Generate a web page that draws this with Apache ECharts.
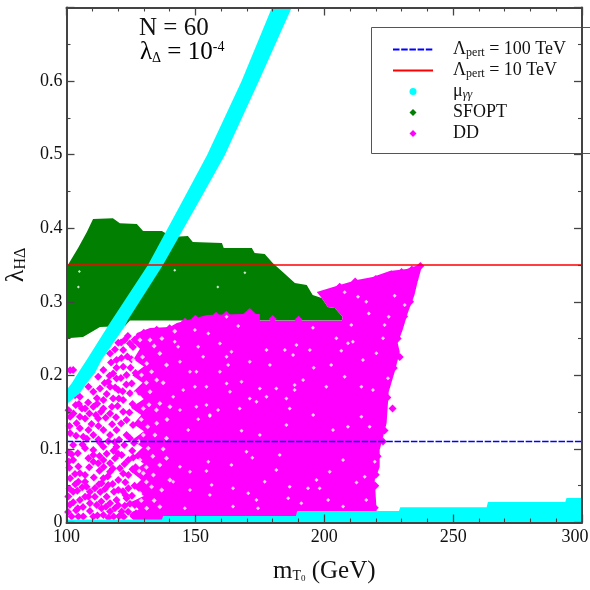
<!DOCTYPE html>
<html><head><meta charset="utf-8">
<style>html,body{margin:0;padding:0;background:#fff}#c{width:590px;height:590px}</style>
<script src="https://cdn.jsdelivr.net/npm/echarts@6/dist/echarts.min.js"></script>
</head><body><div id="c"></div>
<script>
const lineXs = [100, 300];
const pert100 = [0.11, 0.11];
const pert10 = [0.35, 0.35];
const cyanBand = [[100,.18],[102.1,.1895],[104.5,.2031],[107.8,.2208],[116.1,.267],[117.6,.2751],[131.6,.3499],[145.2,.4382],[154.5,.4993],[167.9,.5999],[179.7,.7],[187.4,.7],[174.6,.5999],[161.4,.4993],[151.7,.4382],[137.4,.3499],[123.8,.2751],[122.7,.267],[113.6,.2208],[111,.2031],[107.9,.1895],[105.2,.1759],[100.6,.1623],[100,.162]];
const cyanFloor = [[100,0],[100,.004],[137,.004],[137.5,.0088],[189,.0088],[189.5,.0156],[229,.0156],[229.5,.0206],[263,.0206],[263.5,.0279],[293.5,.0279],[294,.0333],[300,.0333],[300,0]];
const sfoptRegion = [[100,.248],[100,.3471],[104.5,.373],[107.9,.3947],[110.3,.4124],[118,.4137],[120.7,.4069],[127.3,.4056],[129.7,.3961],[137,.3961],[140.9,.3879],[147.1,.3893],[149,.3811],[160.3,.3798],[161,.373],[171.9,.373],[173,.3662],[176.9,.3648],[180,.3526],[183.9,.3404],[188.6,.3254],[193.2,.3227],[195.5,.3091],[199,.305],[201.4,.2928],[204.1,.2914],[207.2,.2792],[206.8,.2745],[124.6,.2745],[122.7,.267],[113,.2656],[106.4,.252],[101.4,.2507],[100,.248]];
const sfoptGaps = [[104.6,.32],[142,.343],[169.2,.3395],[158.7,.32],[105,.341]];
const ddRegion = [[127,0],[124.5,.008],[128,.018],[125,.028],[130,.036],[126,.048],[129,.058],[125.5,.068],[130,.08],[126,.09],[129.5,.102],[125.5,.112],[130,.124],[126,.134],[129,.146],[125,.156],[130,.168],[126,.178],[129.5,.19],[125.5,.2],[130,.212],[126,.222],[128.5,.236],[125.5,.246],[127.3,.2575],[132.4,.2643],[140.1,.2656],[142.8,.2711],[154.5,.2819],[168.5,.2833],[171.1,.2914],[173.5,.2833],[175,.2833],[175,.2742],[206.8,.2742],[207.2,.2792],[204.1,.2914],[201.4,.2928],[199,.305],[197.1,.3132],[206,.3227],[212.6,.3295],[218.8,.3336],[225.4,.3417],[232,.3444],[237.8,.3512],[237.8,.3471],[236.2,.3268],[235,.3091],[232.4,.2846],[230.4,.2615],[228.5,.2439],[229.3,.2317],[227.3,.2045],[225,.1773],[224.2,.1352],[221.5,.0985],[221.5,.0754],[219.6,.0577],[220.3,.017],[220.3,0]];
const ddPoints = [
[102,.0926],[102.6,.085],[101.1,.0745],[104.6,.076],[105.2,.0668],[107.2,.0646],[101.4,.06],[104.6,.0555],[102.6,.0419],[107.2,.0555],[107.8,.0487],[109.1,.0419],[110.4,.0827],[112.3,.0804],[108.5,.0872],[110.4,.0917],[114.3,.085],[116.9,.0804],[110.4,.0985],[107.2,.1008],[114.3,.06],[113.6,.0532],[111,.0465],[111,.0351],[109.1,.0261],[105.2,.0306],[102.6,.0274],[107.2,.0351],[111.7,.0238],[113.6,.0193],[109.1,.0157],[104.6,.008],[102,.008],[106.5,.008],[110.4,.008],[114.3,.0102],[116.9,.0261],[116.9,.0148],[118.8,.0193],
[102.6,.2072],[101.4,.207],[105.2,.1709],[103.3,.173],[101.4,.1438],[105.2,.1438],[107.2,.1415],[110.4,.1573],[114.3,.1664],[110.4,.1777],[116.2,.1913],[118.1,.2026],[114.3,.2072],[112.3,.1981],[108.5,.1845],[113,.182],[120.1,.2443],[116.9,.2298],[119.4,.2208],[122,.2343],[124.6,.2434],[122,.2117],[123.3,.2004],[119.4,.1958],[116.9,.1845],[120.1,.18],[118.1,.1687],[122,.1664],[125.3,.1891],[114.3,.1551],[116.9,.1483],[112.3,.1415],[122,.1505],[123.3,.1392],[107.2,.1551],
[105.2,.128],[108.5,.1257],[110.4,.1189],[114.3,.1257],[116.9,.1189],[119.4,.1257],[123.3,.1189],[101.4,.1212],[106.5,.1166],[102.6,.1053],[114.3,.1031],[119.4,.1031],[121.4,.0917],[118.8,.0872],[124,.085],[120.7,.0736],[116.9,.0691],[124,.0646],[120.1,.0578],[116.2,.051],[120.1,.0442],[124,.0465],[115.6,.0351],[119.4,.0306],[123.3,.0329],[126.5,.0238],[121.4,.0148],[125.9,.0102],
[103.6,.1597],[100.8,.1525],[108.4,.1632],[111.8,.1688],[119.2,.1432],[125.6,.1612],[124.6,.1758],[126.8,.2032],[125.2,.2218],[126.4,.2485],[122.6,.2482],[118.8,.2352],[125.8,.1325],[126.2,.1082],[122.4,.1052],[112.4,.1128],[103.9,.1348],[100.9,.0952],[126.8,.0752],[122.8,.0548],[126.4,.0498],[112.8,.0702],[110.6,.0612],[118.4,.0418],[113.1,.0414],[122.6,.0228],[118.3,.0082],[122.2,.0078],[104.4,.0192],[100.7,.0352],[100.6,.0142],[104.2,.0432],
[101.2,.131],[103.7,.118],[106.2,.106],[104.4,.094],[107.9,.114],[103.3,.066],[100.9,.083],[108.8,.075],[106.1,.048],[103.4,.052],[101.2,.046],[108.5,.035],[103.7,.0165],[106.4,.021],[101.3,.024],[106,.155],[102.7,.148],[108.9,.148],[104.8,.161],[111.4,.146],[109.7,.134],[112.4,.131],
[112.8,.0905],[115.6,.0935],[113,.1085],[116.2,.1105],[117.7,.1335],[115.2,.1425],[113.4,.1505],[117.6,.1575],[115.6,.1745],[111.9,.1615],[118.9,.1835],[114.8,.1895],[116.7,.1995],[119.4,.2105],[117.3,.2175],[121.3,.2235],[114.4,.0755],[116,.0625],[118,.0735],[112.6,.052],[114.9,.0455],[117.9,.0525],[113.5,.0285],[115.3,.0215],[112,.0095],[116.3,.0065],
[120.4,.1125],[121.2,.1345],[124.6,.1145],[119.8,.1585],[120.3,.1685],[124.4,.1495],[121.8,.1785],[123.2,.1875],[124.8,.2105],[121.1,.1965],[123.6,.2255],[121.2,.2445],[123.8,.2535],[125.8,.2385],[120,.0935],[122.5,.0795],[125.5,.0975],[125.9,.0885],[122,.0665],[125.6,.0725],[121.9,.0425],[122.9,.0375],[125.4,.0365],[124.6,.0255],[120.1,.0235],[120.4,.0085],[123.9,.0145],[127,.0125],[118.7,.1095],[118.2,.0975],
[130,.258],[135,.262],[140,.264],[146,.273],[150,.277],[158,.281],[162,.2825],[180,.2765],[190,.2755],[210,.319],[215,.3245],[220,.331],[226,.3375],[230,.3405],[234,.344],[237.3,.3485],[235,.33],[233.3,.3],[231,.28],[228.5,.25],[227,.21],[224.5,.17],[223.4,.125],[220.7,.09],[219.8,.05],[219.6,.02],[220,.065],[222.8,.11],[226.5,.155],[229.3,.225],[202,.3025],[206,.3205],[212,.3275]
];
const ddGapsSmall = [
[162.1,.2797],[166.6,.267],[149.8,.2615],[155,.257],[159.5,.2434],[142,.2457],[151.1,.2389],[143.3,.2389],[164,.2321],[171.1,.2185],[162.1,.2253],[153,.2253],[177.6,.2344],[184.7,.2344],[178.9,.214],[162.7,.214],[144,.2185],[187.9,.2276],[147.9,.2049],[150.4,.2049],[159.5,.2049],[167.9,.1913],[154.3,.1845],[145.3,.18],[149.8,.1845],[162.1,.1891],[175,.1823],[181.4,.1823],[188.5,.18],[141.4,.171],[171.1,.1687],[158.8,.1528],[167.2,.1551],[154.3,.1596],[144,.1528],[186.6,.1551],[173.7,.1642],[185.3,.1687],[150.4,.1574],[155.6,.146],[177.6,.171],[163.4,.1778],
[207.9,.3128],[213.1,.3069],[227.3,.3082],[217.3,.2842],[210.5,.2684],[195.6,.2648],[223.4,.2684],[225,.2797],[216.3,.3001],[204.7,.2503],[211.1,.2457],[209.2,.2435],[206.6,.2335],[222.8,.2503],[220.2,.2299],[215,.2208],[195.9,.2104],[202.7,.214],[224.7,.1959],[200.8,.1846],[214.4,.1846],[188.5,.1869],[207.9,.1982],[231.2,.2956],[194.4,.2344],[189.2,.2412],[218.9,.1801],[191.8,.1937],
[147.2,.1257],[155.6,.1447],[151.1,.1402],[167.9,.1248],[175,.1189],[185.3,.1325],[195.7,.1461],[203.4,.1257],[209.2,.1303],[214.4,.1438],[217.6,.1303],[169.8,.0963],[172.1,.0881],[182.7,.0918],[155,.0827],[164,.0782],[154.3,.07],[147.9,.0691],[144,.0759],[141.4,.0555],[156.3,.051],[164.6,.0465],[170.5,.0397],[176.9,.0555],[181.4,.0714],[186.6,.0487],[186,.0329],[191.1,.0261],[201.5,.0306],[207.3,.0216],[198.2,.0465],[193.7,.0465],[202.1,.0691],[207.3,.085],[219.6,.0827],[215.7,.0623],[212.5,.0542],[216.3,.0306],[197,.0578],[173.7,.0306],[174.3,.0193],[155.6,.0374],[147.9,.0442],[145.9,.0193],[164.6,.0216]
];
const ddGapsLarge = [[128.5,.085],[131.7,.1008],[129.8,.0668],[136.2,.0781],[133,.0487],[128.5,.0397],[136.9,.0442],[131.1,.0193],[136.2,.0215],[138.8,.0872],[134.3,.1189],[129.8,.1189],[138.8,.1144],[127.2,.1008],[127.2,.0578],[140.1,.0578],[133.7,.0646],[132.4,.2479],[128.5,.2479],[125.9,.2208],[131.1,.2162],[136.2,.2298],[129.1,.2004],[135,.1936],[138.8,.214],[126.6,.1755],[132.4,.1777],[136.2,.1619],[129.8,.1551],[134.9,.1528],[140.1,.1573],
[129,.03],[128.2,.07],[131,.075],[128,.11],[131.5,.13],[129,.14],[132,.16],[128.5,.17],[131,.19],[133,.205],[129.5,.225],[134,.24],[131,.055],[134,.03],[137.5,.1],[135,.135],[133.5,.09],[139,.14],[137.5,.19],[137,.25],[142,.26]];
const xTicks = {min:100,max:300,major:50};
const yTicks = {min:0,max:.7,major:.1};
const names = ['\u039bpert = 100 TeV','\u039bpert = 10 TeV','\u03bc\u03b3\u03b3','SFOPT','DD'];
const colors = {blue:'#0000ff',red:'#ff0000',cyan:'#00ffff',green:'#007f00',magenta:'#ff00ff',axis:'#444'};
const serif = '"Liberation Serif","Times New Roman",serif';
const diamondIcon = 'path://M5 0L10 5L5 10L0 5Z';

function polygonSeries(name, pts, color, z) {
  return {name, type:'custom', coordinateSystem:'cartesian2d', z, clip:true, silent:true,
    itemStyle:{color}, data:pts, encode:{x:0,y:1},
    renderItem:function(params, api){
      if (params.dataIndex !== 0) return;
      return {type:'polygon', shape:{points:pts.map(p=>api.coord(p))}, style:{fill:color}, silent:true};
    }};
}
function axisCommon(show){
  return {axisLine:{show:true,onZero:false,lineStyle:{color:colors.axis,width:2}},
    axisTick:{show:true,inside:true,length:8,lineStyle:{color:colors.axis,width:1.3}},
    minorTick:{show:true,length:4,lineStyle:{color:colors.axis,width:1.1}},
    splitLine:{show:false},z:20,
    axisLabel:{show:show,color:'#111',fontFamily:serif,fontSize:18}};
}
const rich = {
  n:{fontFamily:serif,fontSize:18,color:'#111'},
  s:{fontFamily:serif,fontSize:12,color:'#111',verticalAlign:'bottom',lineHeight:19},
  si:{fontFamily:serif,fontSize:12,fontStyle:'italic',color:'#111',verticalAlign:'bottom',lineHeight:19},
  g:{width:15}
};
const legendText = {
  [names[0]]:'{g| }{n|\u039b}{s|pert}{n| = 100 TeV}',
  [names[1]]:'{g| }{n|\u039b}{s|pert}{n| = 10 TeV}',
  [names[2]]:'{g| }{n|\u03bc}{si|\u03b3\u03b3}',
  [names[3]]:'{g| }{n|SFOPT}{s| }',
  [names[4]]:'{g| }{n|DD}{s| }'
};
const chart = echarts.init(document.getElementById('c'),null,{renderer:'canvas'});
chart.setOption({
  animation:false, backgroundColor:'#fff',
  grid:{left:66.5,right:8,top:7.5,bottom:67.5,containLabel:false,outerBoundsMode:'none'},
  xAxis:[
    Object.assign(axisCommon(true),{type:'value',min:xTicks.min,max:xTicks.max,interval:xTicks.major,position:'bottom',
      minorTick:{show:true,splitNumber:5,length:4,lineStyle:{color:colors.axis,width:1.1}},
      axisLabel:{color:'#111',fontFamily:serif,fontSize:18,margin:6,
        formatter:v=>v===xTicks.max?'{r|'+v+'}':String(v),
        rich:{r:{fontFamily:serif,fontSize:18,color:'#111',padding:[0,14,0,0]}}},
      nameLocation:'middle',nameGap:36,name:'{m|m}{t|T}{z|0}{m| (GeV)}',
      nameTextStyle:{rich:{m:{fontFamily:serif,fontSize:25,color:'#111'},t:{fontFamily:serif,fontSize:14,color:'#111',verticalAlign:'bottom',lineHeight:22},z:{fontFamily:serif,fontSize:9,color:'#111',verticalAlign:'bottom',lineHeight:18}}}}),
    Object.assign(axisCommon(false),{type:'value',min:xTicks.min,max:xTicks.max,interval:xTicks.major,position:'top',
      minorTick:{show:true,splitNumber:5,length:4,lineStyle:{color:colors.axis,width:1.1}}})
  ],
  yAxis:[
    Object.assign(axisCommon(true),{type:'value',min:yTicks.min,max:yTicks.max,interval:yTicks.major,position:'left',
      minorTick:{show:true,splitNumber:2,length:4,lineStyle:{color:colors.axis,width:1.1}},
      axisLabel:{color:'#111',fontFamily:serif,fontSize:18,margin:4,showMaxLabel:false,
        formatter:v=>v===0?'0':v.toFixed(1)},
      nameLocation:'middle',nameRotate:90,nameGap:34,name:'{m|\u03bb}{t|H\u0394}',
      nameTextStyle:{rich:{m:{fontFamily:serif,fontSize:26,color:'#111'},t:{fontFamily:serif,fontSize:16,color:'#111',verticalAlign:'bottom',lineHeight:24}}}}),
    Object.assign(axisCommon(false),{type:'value',min:yTicks.min,max:yTicks.max,interval:yTicks.major,position:'right',
      minorTick:{show:true,splitNumber:2,length:4,lineStyle:{color:colors.axis,width:1.1}}})
  ],
  legend:{left:392,top:40.5,orient:'vertical',padding:0,itemGap:2.5,itemWidth:40,itemHeight:7,selectedMode:false,
    data:[{name:names[0],itemStyle:{opacity:0}},{name:names[1],itemStyle:{opacity:0}},{name:names[2],icon:'circle'},{name:names[3],icon:diamondIcon},{name:names[4],icon:diamondIcon}],
    formatter:n=>legendText[n], textStyle:{rich}},
  series:[
    polygonSeries(names[3],sfoptRegion,colors.green,2),
    {type:'scatter',name:'sfopt-gaps',z:3,symbol:'diamond',symbolSize:3,itemStyle:{color:'#fff'},data:sfoptGaps,silent:true},
    polygonSeries(names[4],ddRegion,colors.magenta,4),
    {type:'scatter',name:names[4],z:4,symbol:'diamond',symbolSize:8,itemStyle:{color:colors.magenta,opacity:1},data:ddPoints,silent:true},
    {type:'scatter',name:'dd-gaps-large',z:5,symbol:'diamond',symbolSize:5,itemStyle:{color:'#fff'},data:ddGapsLarge,silent:true},
    {type:'scatter',name:'dd-gaps-small',z:5,symbol:'diamond',symbolSize:4,itemStyle:{color:'#fff'},data:ddGapsSmall,silent:true},
    polygonSeries(names[2],cyanBand,colors.cyan,6),
    polygonSeries(names[2]+' floor',cyanFloor,colors.cyan,6),
    {type:'line',name:names[0],z:7,showSymbol:false,symbol:'none',silent:true,
      lineStyle:{color:colors.blue,width:1.5,type:[6.5,1.7]},itemStyle:{color:colors.blue},
      data:lineXs.map((x,i)=>[x,pert100[i]])},
    {type:'line',name:names[1],z:7,showSymbol:false,symbol:'none',silent:true,
      lineStyle:{color:colors.red,width:1.6},itemStyle:{color:colors.red},
      data:lineXs.map((x,i)=>[x,pert10[i]])}
  ],
  graphic:[
    {type:'rect',z:15,silent:true,shape:{x:371.5,y:27.5,width:240,height:126},style:{fill:'none',stroke:'#555',lineWidth:1}},
    {type:'text',z:15,silent:true,left:139,top:16,style:{text:'N = 60',font:'25px '+serif,fill:'#111'}},
    {type:'text',z:15,silent:true,left:140,top:40,style:{text:'{a|\u03bb}{b|\u0394}{a| = 10}{c|-4}',rich:{
      a:{fontFamily:serif,fontSize:25,color:'#111'},
      b:{fontFamily:serif,fontSize:14,color:'#111',verticalAlign:'bottom',lineHeight:23},
      c:{fontFamily:serif,fontSize:14,color:'#111',verticalAlign:'top',lineHeight:23}}}}
  ]
});
</script></body></html>
